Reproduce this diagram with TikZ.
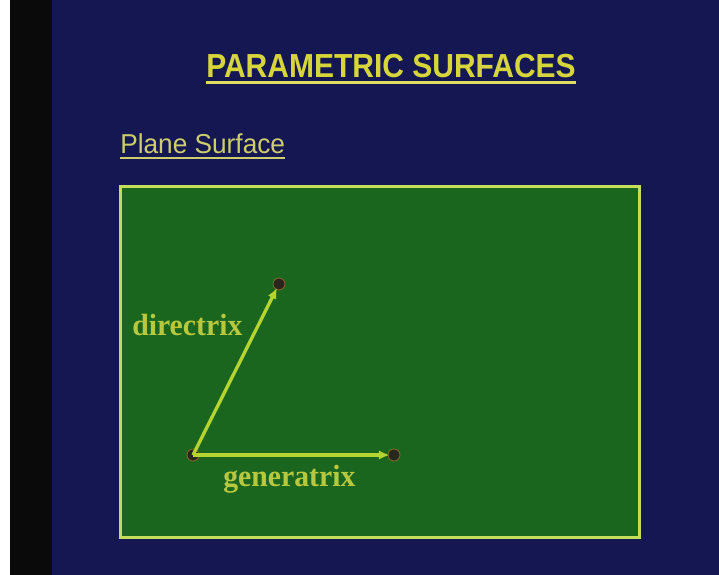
\documentclass[tikz,border=0pt]{standalone}
\usepackage{fontspec}
\setmainfont{Liberation Serif}
\setsansfont{Liberation Sans}
\usetikzlibrary{arrows.meta}
\definecolor{navy}{RGB}{20,23,82}
\definecolor{stripblack}{RGB}{10,10,10}
\definecolor{boardgreen}{RGB}{27,102,30}
\definecolor{titleyellow}{RGB}{214,214,58}
\definecolor{subyellow}{RGB}{205,205,110}
\definecolor{bordergreen}{RGB}{196,222,92}
\definecolor{arrowgreen}{RGB}{182,212,48}
\definecolor{labelgreen}{RGB}{184,200,62}
\definecolor{dotdark}{RGB}{38,40,30}
\definecolor{dotrim}{RGB}{130,100,40}
\tikzset{
  endpt/.style={circle, fill=dotdark, draw=dotrim, line width=0.7pt, minimum size=9pt, inner sep=0pt},
  vecarrow/.style={draw=arrowgreen, line width=2.5pt, shorten >=-1.5pt, -{Latex[length=8pt,width=7pt]}},
  lbl/.style={font=\fontsize{23pt}{27pt}\selectfont\bfseries, text=labelgreen, inner sep=0pt, anchor=base west},
}
\begin{document}
\begin{tikzpicture}[x=0.75pt, y=-0.75pt]
\useasboundingbox (0,0) rectangle (719,575);
% background
\fill[white] (0,0) rectangle (719,575);
\fill[navy] (10,0) rectangle (719,575);
\fill[stripblack] (10,0) rectangle (52,575);
% title
\node[font=\sffamily\bfseries\fontsize{25pt}{29pt}\selectfont, text=titleyellow, inner sep=0pt, anchor=base west] (title) at (206,77) {\scalebox{0.9}[1]{PARAMETRIC SURFACES}};
\draw[titleyellow!80!white, line width=2.2pt] ([yshift=-3.9pt]title.base west) -- ([yshift=-3.9pt]title.base east);
% subtitle
\node[font=\sffamily\fontsize{20.5pt}{24pt}\selectfont, text=subyellow, inner sep=0pt, anchor=base west] (sub) at (120,153) {\scalebox{0.96}[1]{Plane Surface}};
\draw[subyellow, line width=1.7pt] ([yshift=-3.6pt]sub.base west) -- ([yshift=-3.6pt]sub.base east);
% board
\node[draw=bordergreen, fill=boardgreen, line width=2.4pt, minimum width=519*0.75pt, minimum height=351*0.75pt, inner sep=0pt, anchor=north west] (board) at (118.5,184.5) {};
% endpoints
\node[endpt] (s) at (193,455) {};
\node[endpt] (d) at (279,284) {};
\node[endpt] (g) at (394,455) {};
% vectors
\draw[vecarrow] (s.center) -- (d);
\draw[vecarrow] (s.center) -- (g);
% labels
\node[lbl] (dl) at (132,335) {\scalebox{0.97}[1]{directrix}};
\node[lbl] (gl) at (223,486) {\scalebox{0.97}[1]{generatrix}};
\end{tikzpicture}
\end{document}
